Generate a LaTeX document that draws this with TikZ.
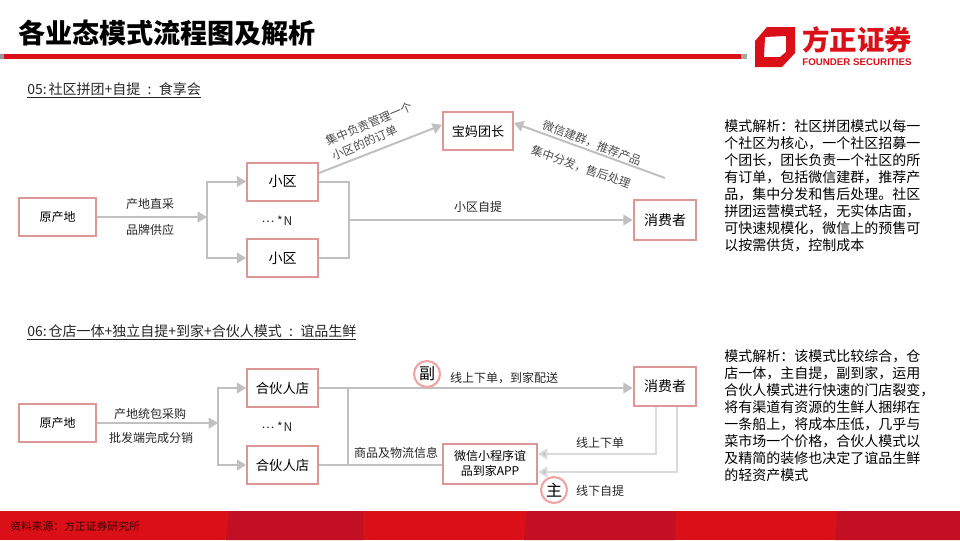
\documentclass[tikz,border=0pt]{standalone}
\usepackage{fontspec}
\setmainfont{Noto Sans CJK SC}
\newfontfamily\logofont{Liberation Sans}
\usetikzlibrary{arrows.meta}
\definecolor{boxred}{HTML}{DC9896}
\definecolor{linegray}{HTML}{C0C0C0}
\definecolor{lightgray}{HTML}{DADADA}
\definecolor{brandred}{HTML}{DA0F18}
\definecolor{darkred}{HTML}{C20F24}
\definecolor{ringred}{HTML}{F2A3A3}
\newcommand{\gapcolon}{\hspace{5.4pt}:\hspace{5.4pt}}
\newcommand{\headcolon}{:\hspace{1.5pt}}
\newcommand{\fcomma}{\char"FF0C\relax}
\newcommand{\fcolon}{\char"FF1A\relax}
\newcommand{\morenodes}{\raisebox{0.3em}{…} *\hspace{0.8pt}N}
\tikzset{
  box/.style={draw=boxred, line width=1.5pt, fill=white, inner sep=0pt, align=center},
  flow/.style={draw=linegray, line width=1.5pt},
  flowtip/.style={flow, -{Triangle[length=7pt,width=8pt,fill=linegray]}},
  paletip/.style={draw=lightgray, line width=1.5pt, -{Triangle[length=7pt,width=8pt,fill=linegray]}},
  lbl/.style={inner sep=0pt, text=black!85, font=\fontsize{9}{9}\selectfont},
  slant/.style={lbl, text=black!70, font=\fontsize{8.7}{12}\selectfont},
  ring/.style={circle, draw=ringred, line width=1.6pt, fill=white, inner sep=0pt, minimum size=19.5pt, font=\fontsize{12}{12}\selectfont},
  para/.style={inner sep=0pt, anchor=north west, align=left, text=black, font=\fontsize{10.5}{12.75}\selectfont},
  heading/.style={inner sep=0pt, anchor=west, text=black!85, font=\fontsize{10.5}{10.5}\selectfont}
}
\begin{document}
\begin{tikzpicture}[x=0.75pt,y=-0.75pt]
    \useasboundingbox (0,0) rectangle (960,540);
    % Header
    \node[inner sep=0pt, anchor=west, font=\fontsize{20.3}{20.3}\selectfont\bfseries] (title) at (18,33) {各业态模式流程图及解析};
    \fill[brandred] (0,54) rectangle (741,59);
    \fill[black!40] (0,54) rectangle (4,59);
    \fill[black!35] (741,54) rectangle (747,59);
    % Logo
    \fill[brandred, even odd rule] (767,27) -- (795,27) -- (795,53) -- (782,67) -- (755,67) -- (755,41) -- cycle
        (765,37) -- (786,36) -- (786,52) -- (780,57) -- (764,57) -- cycle;
    \node[inner sep=0pt, text=brandred, font=\fontsize{20.6}{20.6}\selectfont\bfseries] (logocn) at (857,40) {方正证券};
    \node[inner sep=0pt, text=brandred, font=\logofont\fontsize{7.3}{7.3}\selectfont\bfseries] (logoen) at (857,62) {FOUNDER SECURITIES};
    % Footer
    \fill[brandred] (0,511) rectangle (960,540);
    \fill[darkred] (229,511) -- (363,511) -- (363,540) -- (226,540) -- cycle;
    \fill[darkred] (527,511) -- (676,511) -- (675,540) -- (524,540) -- cycle;
    \fill[darkred] (838,511) -- (960,511) -- (960,540) -- (835,540) -- cycle;
    \node[inner sep=0pt, anchor=west, text=black!75!brandred, font=\fontsize{8.1}{8.1}\selectfont] (source) at (10,526) {资料来源\fcolon 方正证券研究所};

    % 05
    \node[heading] (head5) at (27,90) {\underline{05\headcolon 社区拼团+自提\gapcolon 食享会}};
    \node[box, minimum width=58pt, minimum height=28.5pt, font=\fontsize{9}{9}\selectfont] (origin5) at (57.5,217) {原产地};
    \node[box, minimum width=53pt, minimum height=28.5pt, font=\fontsize{10.5}{10.5}\selectfont] (xq1) at (282.5,181.5) {小区};
    \node[box, minimum width=53pt, minimum height=29pt, font=\fontsize{10.5}{10.5}\selectfont] (xq2) at (282.5,258) {小区};
    \node[box, minimum width=53pt, minimum height=28pt, font=\fontsize{9.8}{9.8}\selectfont] (leader) at (478,131) {宝妈团长};
    \node[box, minimum width=47pt, minimum height=29.5pt, font=\fontsize{10.5}{10.5}\selectfont] (buyer5) at (665,220) {消费者};
    \coordinate (split5) at (207,217);
    \coordinate (merge5) at (349,220);
    \coordinate (xq1out) at (319,173);
    \coordinate (leadin) at (442,125);
    \coordinate (buyerout) at (665,178);
    \coordinate (leadback) at (514,123);
    % Arrows 05
    \draw[flowtip] (origin5.east |- split5) -- (split5);
    \draw[flowtip] (split5) |- (xq1.west);
    \draw[flowtip] (split5) |- (xq2.west);
    \draw[flow] (xq1.east) -| (merge5);
    \draw[flow] (xq2.east) -| (merge5);
    \draw[flowtip] (merge5) -- (buyer5.west);
    \draw[flowtip] (xq1out) -- (leadin);
    \draw[flowtip] (buyerout) -- (leadback);
    % Labels 05
    \node[lbl] (l51) at (150,204) {产地直采};
    \node[lbl] (l52) at (150,230) {品牌供应};
    \node[lbl] (more5) at (277,221) {\morenodes};
    \node[lbl] (l53) at (478,207) {小区自提};
    \node[slant, rotate=23, align=left] (l54) at (372,131) {集中负责管理一个\\小区的的订单};
    \node[slant, rotate=-21] (l55) at (592,143) {微信建群\fcomma 推荐产品};
    \node[slant, rotate=-20] (l56) at (581,167) {集中分发\fcomma 售后处理};
    \node[para] (note5) at (724,119) {模式解析\fcolon 社区拼团模式以每一\\个社区为核心\fcomma 一个社区招募一\\个团长\fcomma 团长负责一个社区的所\\有订单\fcomma 包括微信建群\fcomma 推荐产\\品\fcomma 集中分发和售后处理。社区\\拼团运营模式轻\fcomma 无实体店面\fcomma \\可快速规模化\fcomma 微信上的预售可\\以按需供货\fcomma 控制成本};

    % 06
    \node[heading] (head6) at (27,332) {\underline{06\headcolon 仓店一体+独立自提+到家+合伙人模式\gapcolon 谊品生鲜}};
    \node[box, minimum width=58pt, minimum height=29pt, font=\fontsize{9}{9}\selectfont] (origin6) at (57.5,423) {原产地};
    \node[box, minimum width=53pt, minimum height=29pt, font=\fontsize{10}{10}\selectfont] (shop1) at (282.5,388) {合伙人店};
    \node[box, minimum width=53pt, minimum height=29pt, font=\fontsize{10}{10}\selectfont] (shop2) at (282.5,465) {合伙人店};
    \node[box, minimum width=71pt, minimum height=30pt, font=\fontsize{9}{11}\selectfont] (app) at (490,463.5) {微信小程序谊\\品到家APP};
    \node[box, minimum width=47pt, minimum height=29.5pt, font=\fontsize{10.5}{10.5}\selectfont] (buyer6) at (665,386.5) {消费者};
    \coordinate (split6) at (218,423);
    \coordinate (merge6) at (348,425);
    \coordinate (buyerl) at (656,407);
    \coordinate (buyerr) at (677,407);
    \coordinate (appin1) at (538,454);
    \coordinate (appin2) at (538,472);
    % Arrows 06
    \draw[flowtip] (origin6.east |- split6) -- (split6);
    \draw[flowtip] (split6) |- (shop1.west);
    \draw[flowtip] (split6) |- (shop2.west);
    \draw[flow] (shop1.east) -| (merge6);
    \draw[flow] (shop2.east) -| (merge6);
    \draw[flowtip] (shop1.east) -- (buyer6.west |- shop1.east);
    \draw[flow] (shop2.east) -- (app.west |- shop2.east);
    \draw[paletip] (buyerl) |- (appin1);
    \draw[paletip] (buyerr) |- (appin2);
    % Labels 06
    \node[lbl] (l61) at (150,414) {产地统包采购};
    \node[lbl] (l62) at (151,438) {批发端完成分销};
    \node[lbl] (more6) at (277,427) {\morenodes};
    \node[lbl] (l63) at (504,378) {线上下单\fcomma 到家配送};
    \node[lbl, fill=white] (l64) at (396,453) {商品及物流信息};
    \node[lbl] (l65) at (600,443) {线上下单};
    \node[lbl] (l66) at (600,491) {线下自提};
    \node[ring] (fu) at (427,374) {副};
    \node[ring] (zhu) at (554,490) {主};
    \node[para] (note6) at (724,349) {模式解析\fcolon 该模式比较综合\fcomma 仓\\店一体\fcomma 主自提\fcomma 副到家\fcomma 运用\\合伙人模式进行快速的门店裂变\fcomma \\将有渠道有资源的生鲜人捆绑在\\一条船上\fcomma 将成本压低\fcomma 几乎与\\菜市场一个价格\fcomma 合伙人模式以\\及精简的装修也决定了谊品生鲜\\的轻资产模式};
\end{tikzpicture}
\end{document}
